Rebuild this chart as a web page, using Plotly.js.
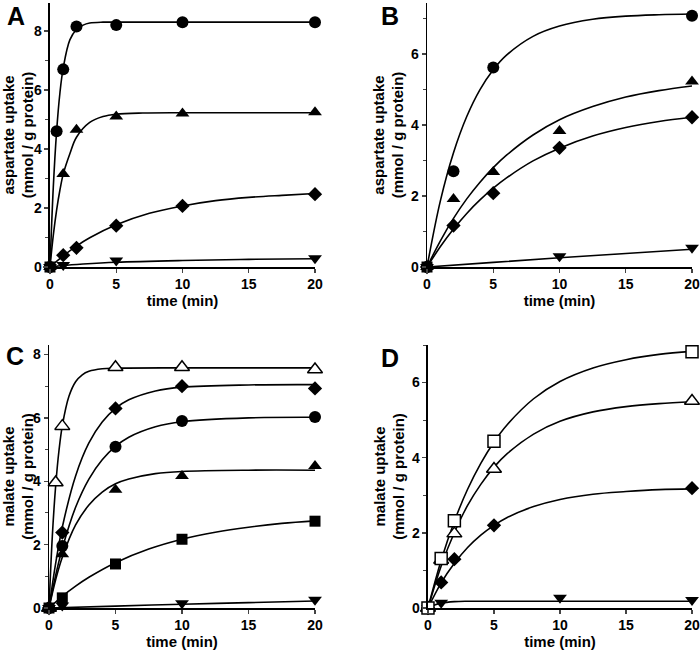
<!DOCTYPE html>
<html>
<head>
<meta charset="utf-8">
<script src="https://cdn.plot.ly/plotly-3.0.1.min.js"></script>
<style>html,body{margin:0;padding:0;background:#fff;}#chart{width:700px;height:650px;}</style>
</head>
<body>
<div id="chart"></div>
<script>
// ---------- Panel A (aspartate) ----------
const A_circ_t = [0, 0.5, 1, 2, 5, 10, 20];
const A_circ_y = [0, 4.6, 6.7, 8.15, 8.2, 8.3, 8.3];
const A_tri_t = [0, 1, 2, 5, 10, 20];
const A_tri_y = [0, 3.15, 4.65, 5.1, 5.2, 5.25];
const A_dia_t = [0, 1, 2, 5, 10, 20];
const A_dia_y = [0, 0.4, 0.65, 1.4, 2.07, 2.47];
const A_dtri_t = [0, 1, 5, 20];
const A_dtri_y = [0, 0.07, 0.22, 0.3];
const A_sq_t = [0];
const A_sq_y = [0];
// fitted curves
const A_circFit_t = [0, 0.25, 0.5, 0.75, 1, 1.5, 2, 2.5, 3, 4, 5, 10, 20];
const A_circFit_y = [0, 2.7, 4.6, 5.9, 6.75, 7.7, 8.05, 8.2, 8.27, 8.3, 8.3, 8.3, 8.3];
const A_triFit_t = [0, 0.25, 0.5, 0.75, 1, 1.5, 2, 3, 4, 5, 7, 10, 20];
const A_triFit_y = [0, 1.07, 1.93, 2.61, 3.15, 3.84, 4.4, 4.9, 5.1, 5.18, 5.22, 5.23, 5.23];
const A_diaFit_t = [0, 1, 2, 3, 5, 7.5, 10, 12.5, 15, 17.5, 20];
const A_diaFit_y = [0, 0.38, 0.71, 0.99, 1.43, 1.82, 2.07, 2.25, 2.36, 2.43, 2.49];
const A_dtriFit_t = [0, 1, 2.5, 5, 10, 15, 20];
const A_dtriFit_y = [0, 0.05, 0.1, 0.16, 0.22, 0.26, 0.28];

// ---------- Panel B (aspartate) ----------
const B_circ_t = [0, 2, 5, 20];
const B_circ_y = [0, 2.7, 5.62, 7.08];
const B_tri_t = [0, 2, 5, 10, 20];
const B_tri_y = [0, 1.92, 2.68, 3.83, 5.23];
const B_dia_t = [0, 2, 5, 10, 20];
const B_dia_y = [0, 1.17, 2.08, 3.36, 4.22];
const B_dtri_t = [0, 10, 20];
const B_dtri_y = [0, 0.3, 0.54];
const B_sq_t = [0];
const B_sq_y = [0];
const B_circFit_t = [0, 1, 2, 3, 4, 5, 6, 8, 10, 12.5, 15, 17.5, 20];
const B_circFit_y = [0, 1.85, 3.22, 4.24, 5.0, 5.56, 5.97, 6.5, 6.79, 6.98, 7.07, 7.11, 7.13];
const B_triFit_t = [0, 1, 2, 3, 4, 5, 6, 8, 10, 12.5, 15, 17.5, 20];
const B_triFit_y = [0, 0.73, 1.37, 1.92, 2.39, 2.8, 3.15, 3.72, 4.15, 4.52, 4.79, 4.97, 5.1];
const B_diaFit_t = [0, 1, 2, 3, 4, 5, 6, 8, 10, 12.5, 15, 17.5, 20];
const B_diaFit_y = [0, 0.57, 1.07, 1.51, 1.89, 2.22, 2.51, 2.99, 3.35, 3.69, 3.93, 4.1, 4.22];
const B_dtriFit_t = [0, 5, 10, 15, 20];
const B_dtriFit_y = [0, 0.13, 0.26, 0.38, 0.5];

// ---------- Panel C (malate) ----------
const C_otri_t = [0, 0.5, 1, 5, 10, 20];
const C_otri_y = [0, 3.96, 5.74, 7.6, 7.6, 7.53];
const C_dia_t = [0, 1, 5, 10, 20];
const C_dia_y = [0, 2.38, 6.3, 7.0, 6.93];
const C_circ_t = [0, 1, 5, 10, 20];
const C_circ_y = [0, 1.96, 5.09, 5.9, 6.03];
const C_tri_t = [0, 1, 5, 10, 20];
const C_tri_y = [0, 1.7, 3.73, 4.17, 4.48];
const C_sq_t = [0, 1, 5, 10, 20];
const C_sq_y = [0, 0.32, 1.39, 2.17, 2.74];
const C_dtri_t = [0, 1, 10, 20];
const C_dtri_y = [0, 0.08, 0.15, 0.26];
const C_otriFit_t = [0, 0.25, 0.5, 0.75, 1, 1.5, 2, 2.5, 3, 4, 5, 10, 20];
const C_otriFit_y = [0, 2.27, 3.85, 4.97, 5.75, 6.68, 7.14, 7.36, 7.47, 7.55, 7.57, 7.58, 7.58];
const C_diaFit_t = [0, 0.5, 1, 2, 3, 4, 5, 6, 8, 10, 15, 20];
const C_diaFit_y = [0, 1.41, 2.55, 4.17, 5.21, 5.87, 6.3, 6.57, 6.85, 6.97, 7.04, 7.05];
const C_circFit_t = [0, 0.5, 1, 2, 3, 4, 5, 6, 8, 10, 15, 20];
const C_circFit_y = [0, 1.03, 1.88, 3.18, 4.07, 4.68, 5.1, 5.39, 5.72, 5.88, 6.0, 6.02];
const C_triFit_t = [0, 0.5, 1, 2, 3, 4, 5, 6, 8, 10, 15, 20];
const C_triFit_y = [0, 0.89, 1.6, 2.62, 3.25, 3.66, 3.92, 4.07, 4.24, 4.31, 4.35, 4.35];
const C_sqFit_t = [0, 1, 2, 3, 5, 7.5, 10, 12.5, 15, 17.5, 20];
const C_sqFit_y = [0, 0.37, 0.69, 0.97, 1.43, 1.86, 2.17, 2.39, 2.55, 2.67, 2.75];
const C_dtriFit_t = [0, 5, 10, 15, 20];
const C_dtriFit_y = [0, 0.06, 0.12, 0.17, 0.22];

// ---------- Panel D (malate) ----------
const D_osq_t = [0, 1, 2, 5, 20];
const D_osq_y = [0, 1.32, 2.32, 4.44, 6.82];
const D_otri_t = [0, 1, 2, 5, 20];
const D_otri_y = [0, 1.28, 1.98, 3.7, 5.51];
const D_dia_t = [0, 1, 2, 5, 20];
const D_dia_y = [0, 0.68, 1.3, 2.2, 3.19];
const D_dtri_t = [0, 1, 10, 20];
const D_dtri_y = [0, 0.14, 0.27, 0.21];
const D_osqFit_t = [0, 1, 2, 3, 4, 5, 6, 8, 10, 12.5, 15, 17.5, 20];
const D_osqFit_y = [0, 1.27, 2.31, 3.16, 3.85, 4.42, 4.88, 5.57, 6.03, 6.39, 6.61, 6.75, 6.83];
const D_otriFit_t = [0, 1, 2, 3, 4, 5, 6, 8, 10, 12.5, 15, 17.5, 20];
const D_otriFit_y = [0, 1.12, 2.01, 2.73, 3.29, 3.75, 4.11, 4.63, 4.97, 5.22, 5.36, 5.44, 5.49];
const D_diaFit_t = [0, 1, 2, 3, 4, 5, 6, 8, 10, 12.5, 15, 17.5, 20];
const D_diaFit_y = [0, 0.67, 1.19, 1.61, 1.94, 2.2, 2.41, 2.7, 2.89, 3.03, 3.1, 3.15, 3.17];
const D_dtriFit_t = [0, 0.5, 1, 2, 3, 5, 20];
const D_dtriFit_y = [0, 0.08, 0.13, 0.17, 0.18, 0.18, 0.18];

const xTickVals = [0, 5, 10, 15, 20];
const panelLetters = ['A', 'B', 'C', 'D'];
const yTitles = ['aspartate uptake<br>(mmol / g protein)', 'aspartate uptake<br>(mmol / g protein)',
                 'malate uptake<br>(mmol / g protein)', 'malate uptake<br>(mmol / g protein)'];
const xTitle = 'time (min)';

const traces = [];
function fit(ax, t, y) {
  traces.push({x: t, y: y, xaxis: 'x' + ax, yaxis: 'y' + ax, mode: 'lines',
    line: {color: '#000', width: 1.6, shape: 'spline', smoothing: 1}, hoverinfo: 'skip', cliponaxis: false});
}
function pts(ax, t, y, sym, size, open) {
  traces.push({x: t, y: y, xaxis: 'x' + ax, yaxis: 'y' + ax, mode: 'markers', cliponaxis: false,
    marker: {symbol: sym, size: size, color: open ? '#fff' : '#000', line: {color: '#000', width: open ? 1.5 : 0}}});
}
// A
fit('', A_circFit_t, A_circFit_y); fit('', A_triFit_t, A_triFit_y); fit('', A_diaFit_t, A_diaFit_y); fit('', A_dtriFit_t, A_dtriFit_y);
pts('', A_circ_t, A_circ_y, 'circle', 12); pts('', A_tri_t, A_tri_y, 'triangle-up', 12);
pts('', A_dia_t, A_dia_y, 'diamond', 11); pts('', A_dtri_t, A_dtri_y, 'triangle-down', 12);
pts('', A_sq_t, A_sq_y, 'square', 11);
// B
fit('2', B_circFit_t, B_circFit_y); fit('2', B_triFit_t, B_triFit_y); fit('2', B_diaFit_t, B_diaFit_y); fit('2', B_dtriFit_t, B_dtriFit_y);
pts('2', B_circ_t, B_circ_y, 'circle', 12); pts('2', B_tri_t, B_tri_y, 'triangle-up', 12);
pts('2', B_dia_t, B_dia_y, 'diamond', 11); pts('2', B_dtri_t, B_dtri_y, 'triangle-down', 12);
pts('2', B_sq_t, B_sq_y, 'square', 11);
// C
fit('3', C_otriFit_t, C_otriFit_y); fit('3', C_diaFit_t, C_diaFit_y); fit('3', C_circFit_t, C_circFit_y);
fit('3', C_triFit_t, C_triFit_y); fit('3', C_sqFit_t, C_sqFit_y); fit('3', C_dtriFit_t, C_dtriFit_y);
pts('3', C_otri_t, C_otri_y, 'triangle-up', 13, true); pts('3', C_dia_t, C_dia_y, 'diamond', 11);
pts('3', C_circ_t, C_circ_y, 'circle', 12); pts('3', C_tri_t, C_tri_y, 'triangle-up', 12);
pts('3', C_dtri_t, C_dtri_y, 'triangle-down', 12); pts('3', C_sq_t, C_sq_y, 'square', 11);
// D
fit('4', D_osqFit_t, D_osqFit_y); fit('4', D_otriFit_t, D_otriFit_y); fit('4', D_diaFit_t, D_diaFit_y); fit('4', D_dtriFit_t, D_dtriFit_y);
pts('4', D_dia_t, D_dia_y, 'diamond', 11); pts('4', D_dtri_t, D_dtri_y, 'triangle-down', 12);
pts('4', D_otri_t, D_otri_y, 'triangle-up', 13, true); pts('4', D_osq_t, D_osq_y, 'square', 12, true);

const fam = '"Liberation Sans", Arial, sans-serif';
const font = {family: fam, size: 15, color: '#000', weight: 'bold'};
function xax(dom, anchor) {
  return {domain: dom, anchor: anchor, range: [0, 20], tickvals: xTickVals, ticks: 'outside', ticklen: 4,
    tickwidth: 1.3, showline: true, linewidth: 1.5, linecolor: '#000', zeroline: false, showgrid: false,
    ticklabeloverflow: 'allow',
    tickfont: {family: fam, size: 14, weight: 'bold', color: '#000'},
    title: {text: xTitle, standoff: 3, font: {family: fam, size: 15, weight: 'bold', color: '#000'}}};
}
function yax(dom, anchor, maxv, title) {
  return {domain: dom, anchor: anchor, range: [0, maxv], dtick: 2, ticks: 'outside', ticklen: 4, tickwidth: 1.3,
    minor: {dtick: 1, ticks: 'outside', ticklen: 3, tickwidth: 1, showgrid: false},
    showline: true, linewidth: 1.5, linecolor: '#000', zeroline: false, showgrid: false,
    ticklabeloverflow: 'allow',
    tickfont: {family: fam, size: 14, weight: 'bold', color: '#000'},
    title: {text: title, standoff: 3, font: {family: fam, size: 15, weight: 'bold', color: '#000'}}};
}
const layout = {
  width: 700, height: 650, showlegend: false, paper_bgcolor: '#fff', plot_bgcolor: '#fff',
  margin: {l: 0, r: 0, t: 0, b: 0}, font: font,
  xaxis: xax([0.0714, 0.45], 'y'), yaxis: yax([0.5892, 0.9954], 'x', 8.95, yTitles[0]),
  xaxis2: xax([0.61, 0.9886], 'y2'), yaxis2: yax([0.5892, 0.9954], 'x2', 7.44, yTitles[1]),
  xaxis3: xax([0.07, 0.45], 'y3'), yaxis3: yax([0.0646, 0.4692], 'x3', 8.3, yTitles[2]),
  xaxis4: xax([0.6114, 0.9886], 'y4'), yaxis4: yax([0.0646, 0.4692], 'x4', 7.0, yTitles[3]),
  annotations: [
    {text: panelLetters[0], x: 16, y: 16}, {text: panelLetters[1], x: 390, y: 16},
    {text: panelLetters[2], x: 15, y: 356}, {text: panelLetters[3], x: 390, y: 358}
  ].map(a => ({text: a.text, xref: 'paper', yref: 'paper', x: a.x / 700, y: 1 - a.y / 650,
    xanchor: 'center', yanchor: 'middle', showarrow: false,
    font: {family: fam, size: 25, weight: 'bold', color: '#000'}}))
};
Plotly.newPlot('chart', traces, layout, {displayModeBar: false, staticPlot: true});
</script>
</body>
</html>
